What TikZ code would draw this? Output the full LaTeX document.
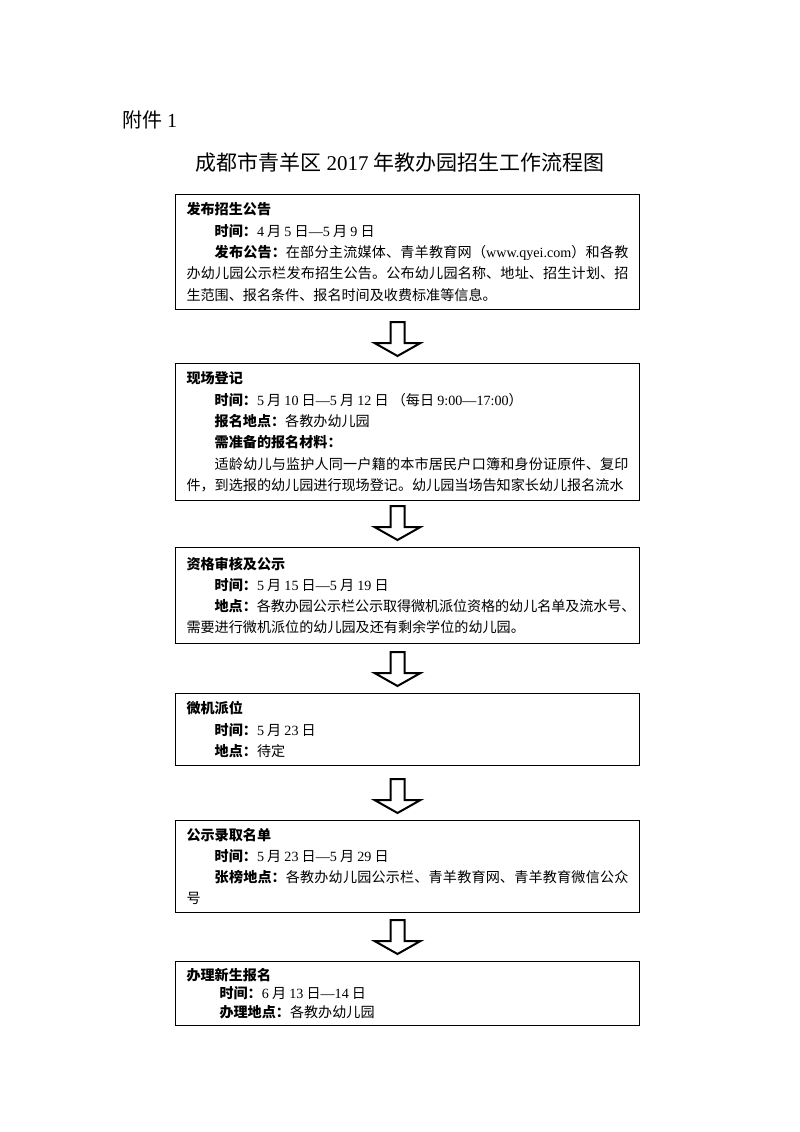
\documentclass[tikz,border=0pt]{standalone}
\usepackage{fontspec}
\setmainfont{Liberation Serif}
\newfontfamily\cjk{Noto Sans CJK SC}
\usetikzlibrary{calc}
\XeTeXlinebreaklocale "zh"
\XeTeXlinebreakskip=0pt plus 1.5pt minus 0.3pt

\newcommand\dig[1]{{\rmfamily #1}}
\newcommand\halfpunct[1]{\makebox[.5em][l]{#1}}
\newcommand\fatarrow[1]{%
  \draw[fat arrow] ($(#1.north)+(-10,-7)$) -- ++(23,-13) -- ++(-16,0) -- ++(0,-21)
    -- ++(-14,0) -- ++(0,21) -- ++(-16,0) -- cycle;}

\tikzset{
  stage/.style={draw, line width=1pt, anchor=north west, inner xsep=11pt, inner ysep=2pt,
    text width=442pt, align=justify, font=\cjk\fontsize{14.1}{21.3}\selectfont},
  fat arrow/.style={draw, line width=2pt, fill=white, line join=miter}
}

\begin{document}
\begin{tikzpicture}[x=1pt, y=-1pt]
  \useasboundingbox (0,0) rectangle (800,1132);
  \node[anchor=west, font=\cjk\fontsize{20}{24}\selectfont] (fujian) at (119,120) {附件 \dig{1}};
  \node[font=\cjk\fontsize{21}{25}\selectfont] (title) at (400,163) {成都市青羊区 \dig{2017} 年教办园招生工作流程图};

  \node[stage, minimum height=115pt] (b1) at (175,194) {%
\textbf{发布招生公告}\\
\hspace*{2em}\textbf{时间：}\dig{4} 月 \dig{5} 日\dig{—5} 月 \dig{9} 日\\
\hspace*{2em}\textbf{发布公告：}在部分主流媒体、青羊教育网（\dig{www.qyei.com}）和各教\linebreak 办幼儿园公示栏发布招生公告。公布幼儿园名称、地址、招生计划、招\linebreak 生范围、报名条件、报名时间及收费标准等信息。};

  \node[stage, minimum height=137pt] (b2) at (175,363) {%
\textbf{现场登记}\\
\hspace*{2em}\textbf{时间：}\dig{5} 月 \dig{10} 日\dig{—5} 月 \dig{12} 日 （每日 \dig{9:00—17:00}）\\
\hspace*{2em}\textbf{报名地点：}各教办幼儿园\\
\hspace*{2em}\textbf{需准备的报名材料：}\\
\hspace*{2em}适龄幼儿与监护人同一户籍的本市居民户口簿和身份证原件、复印\linebreak 件，到选报的幼儿园进行现场登记。幼儿园当场告知家长幼儿报名流水};

  \node[stage, minimum height=96pt] (b3) at (175,547) {%
\textbf{资格审核及公示}\\
\hspace*{2em}\textbf{时间：}\dig{5} 月 \dig{15} 日\dig{—5} 月 \dig{19} 日\\
\hspace*{2em}\textbf{地点：}各教办园公示栏公示取得微机派位资格的幼儿名单及流水号\halfpunct{、}\linebreak 需要进行微机派位的幼儿园及还有剩余学位的幼儿园。};

  \node[stage, minimum height=72pt] (b4) at (175,693) {%
\textbf{微机派位}\\
\hspace*{2em}\textbf{时间：}\dig{5} 月 \dig{23} 日\\
\hspace*{2em}\textbf{地点：}待定};

  \node[stage, minimum height=92pt] (b5) at (175,820) {%
\textbf{公示录取名单}\\
\hspace*{2em}\textbf{时间：}\dig{5} 月 \dig{23} 日\dig{—5} 月 \dig{29} 日\\
\hspace*{2em}\textbf{张榜地点：}各教办幼儿园公示栏、青羊教育网、青羊教育微信公众\linebreak 号};

  \node[stage, minimum height=64pt, font=\cjk\fontsize{14.1}{18.5}\selectfont] (b6) at (175,961) {%
\textbf{办理新生报名}\\
\hspace*{33pt}\textbf{时间：}\dig{6} 月 \dig{13} 日\dig{—14} 日\\
\hspace*{33pt}\textbf{办理地点：}各教办幼儿园};

  \fatarrow{b2}
  \fatarrow{b3}
  \fatarrow{b4}
  \fatarrow{b5}
  \fatarrow{b6}
\end{tikzpicture}
\end{document}
